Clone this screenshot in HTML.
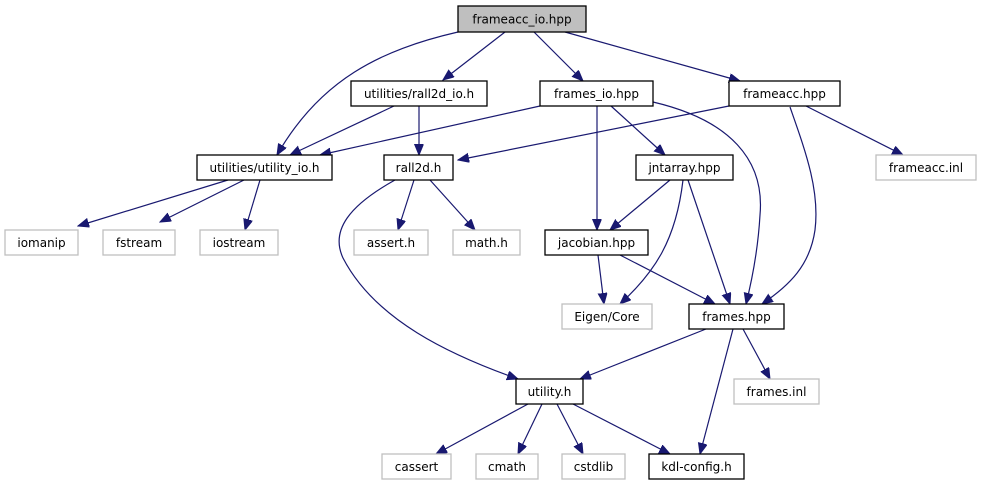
<!DOCTYPE html>
<html><head><meta charset="utf-8"><style>
html,body{margin:0;padding:0;background:#fff;}
svg{display:block;}
text{font-family:"DejaVu Sans","Liberation Sans",sans-serif;font-size:12px;fill:#000;}
.b{fill:#fff;stroke:#000;stroke-width:1.3;}
.g{fill:#fff;stroke:#bfbfbf;stroke-width:1.3;}
.e{fill:none;stroke:#191970;stroke-width:1.2;marker-end:url(#a);}
</style></head><body>
<svg width="981" height="485" viewBox="0 0 981 485" xmlns="http://www.w3.org/2000/svg">
<defs><marker id="a" markerWidth="12" markerHeight="10" refX="11" refY="4.5" orient="auto" markerUnits="userSpaceOnUse"><path d="M0,0 L11,4.5 L0,9 Z" fill="#191970" stroke="#191970"/></marker></defs>
<g>
<path class="e" d="M458,32 C380,50 320,80 277,155"/>
<path class="e" d="M505,32 L443,80"/>
<path class="e" d="M534,32 L583,81"/>
<path class="e" d="M565,32 L740,81"/>
<path class="e" d="M394,106 L290,155"/>
<path class="e" d="M419,106 L419,155"/>
<path class="e" d="M540,106 L320,155"/>
<path class="e" d="M597,106 L597,230"/>
<path class="e" d="M611,106 L665,155"/>
<path class="e" d="M653,102 C730,120 765,160 760,215 C758,250 752,280 746,304"/>
<path class="e" d="M729,106 L458,160"/>
<path class="e" d="M790,107 C805,150 820,190 815,230 C810,265 790,285 762,304"/>
<path class="e" d="M806,106 L903,155"/>
<path class="e" d="M228,180 L78,226"/>
<path class="e" d="M244,180 L160,222"/>
<path class="e" d="M260,180 L245,230"/>
<path class="e" d="M414,180 L398,230"/>
<path class="e" d="M430,180 L475,230"/>
<path class="e" d="M395,180 C350,205 330,230 343,258 C375,320 450,355 518,379"/>
<path class="e" d="M670,180 L610,230"/>
<path class="e" d="M683,180 C676,240 655,272 620,304"/>
<path class="e" d="M688,180 L730,304"/>
<path class="e" d="M598,255 L604,304"/>
<path class="e" d="M620,255 L715,304"/>
<path class="e" d="M706,329 L580,379"/>
<path class="e" d="M733,329 L700,454"/>
<path class="e" d="M743,329 L770,379"/>
<path class="e" d="M528,404 L436,454"/>
<path class="e" d="M542,404 L518,454"/>
<path class="e" d="M557,404 L583,454"/>
<path class="e" d="M573,404 L670,454"/>
</g>
<rect x="458" y="6" width="128" height="26" fill="#bfbfbf" stroke="#000" stroke-width="1.3"/><text x="522" y="23.5" text-anchor="middle">frameacc_io.hpp</text>
<rect class="b" x="351" y="81" width="136" height="25"/><text x="419" y="98" text-anchor="middle">utilities/rall2d_io.h</text>
<rect class="b" x="540" y="81" width="113" height="25"/><text x="596.5" y="98" text-anchor="middle">frames_io.hpp</text>
<rect class="b" x="729" y="81" width="111" height="25"/><text x="784.5" y="98" text-anchor="middle">frameacc.hpp</text>
<rect class="b" x="197" y="155" width="135" height="25"/><text x="264.5" y="172" text-anchor="middle">utilities/utility_io.h</text>
<rect class="b" x="384" y="155" width="69" height="25"/><text x="418.5" y="172" text-anchor="middle">rall2d.h</text>
<rect class="b" x="636" y="155" width="97" height="25"/><text x="684.5" y="172" text-anchor="middle">jntarray.hpp</text>
<rect class="g" x="876" y="155" width="100" height="25"/><text x="926" y="172" text-anchor="middle">frameacc.inl</text>
<rect class="g" x="5" y="230" width="73" height="25"/><text x="41.5" y="247" text-anchor="middle">iomanip</text>
<rect class="g" x="103" y="230" width="72" height="25"/><text x="139" y="247" text-anchor="middle">fstream</text>
<rect class="g" x="200" y="230" width="78" height="25"/><text x="239" y="247" text-anchor="middle">iostream</text>
<rect class="g" x="354" y="230" width="74" height="25"/><text x="391" y="247" text-anchor="middle">assert.h</text>
<rect class="g" x="453" y="230" width="67" height="25"/><text x="486.5" y="247" text-anchor="middle">math.h</text>
<rect class="b" x="545" y="230" width="103" height="25"/><text x="596.5" y="247" text-anchor="middle">jacobian.hpp</text>
<rect class="g" x="562" y="304" width="90" height="25"/><text x="607" y="321" text-anchor="middle">Eigen/Core</text>
<rect class="b" x="689" y="304" width="95" height="25"/><text x="736.5" y="321" text-anchor="middle">frames.hpp</text>
<rect class="b" x="516" y="379" width="67" height="25"/><text x="549.5" y="396" text-anchor="middle">utility.h</text>
<rect class="g" x="734" y="379" width="85" height="25"/><text x="776.5" y="396" text-anchor="middle">frames.inl</text>
<rect class="g" x="382" y="454" width="69" height="25"/><text x="416.5" y="471" text-anchor="middle">cassert</text>
<rect class="g" x="476" y="454" width="62" height="25"/><text x="507" y="471" text-anchor="middle">cmath</text>
<rect class="g" x="562" y="454" width="63" height="25"/><text x="593.5" y="471" text-anchor="middle">cstdlib</text>
<rect class="b" x="649" y="454" width="95" height="25"/><text x="696.5" y="471" text-anchor="middle">kdl-config.h</text>
</svg>
</body></html>
